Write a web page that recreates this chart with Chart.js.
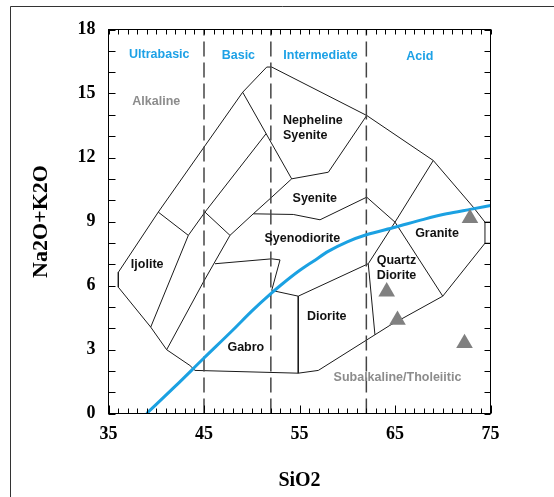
<!DOCTYPE html>
<html><head><meta charset="utf-8">
<script src="https://cdn.jsdelivr.net/npm/chart.js@4.4.0/dist/chart.umd.min.js"></script>
<style>html,body{margin:0;padding:0;background:#fff;}#wrap{width:554px;height:497px;}</style>
</head><body><div id="wrap"><canvas id="c" width="554" height="497"></canvas></div>
<script>
// ---- axis ticks
const xTicks = [35, 45, 55, 65, 75];
const yTicks = [0, 3, 6, 9, 12, 15, 18];
const silicaDividers = [45, 52, 62];

// ---- field boundaries (SiO2, Na2O+K2O)
const outerBoundary = [[49.05,15.06],[40.21,9.44],[36.03,6.62],[36.03,5.92],[39.42,4.05],[41.09,2.99],[43.53,2.25],[44.06,2.02],[54.87,1.89],[56.97,2.02],[62.9,3.69],[64.46,4.13],[70.0,5.5],[74.42,7.98],[74.42,8.97],[73.2,9.67],[69.01,11.86],[62.04,13.97],[52.09,16.24],[51.57,16.24],[49.05,15.06]];
const edgeStubLow = [[74.42,7.98],[75,7.98]];
const edgeStubHigh = [[74.42,8.97],[75,8.97]];
const ijoliteEdge = [[40.21,9.44],[43.36,8.35],[39.42,4.05]];
const foidEdge = [[43.36,8.35],[45.1,9.44],[51.49,13.11]];
const nephelineUpper = [[49.05,15.06],[54.18,11.0]];
const gabbroEdge = [[45.1,9.44],[47.72,8.35],[44.93,6.16],[41.09,2.99]];
const monzoEdge = [[47.72,8.35],[50.16,9.36],[52.09,10.14],[54.18,11.0]];
const syenoTop = [[50.16,9.36],[54.35,9.33],[57.15,9.08],[62.04,10.14],[65.0,8.97]];
const nephelineLower = [[54.18,11.0],[58.02,11.31],[62.04,13.97]];
const graniteEdge = [[69.01,11.86],[65.0,8.97],[70.0,5.5]];
const dioriteTop = [[52.09,5.77],[54.87,5.5],[62.2,7.02],[65.0,8.97]];
const dioriteLeft = [[54.87,5.5],[54.87,1.89]];
const quartzLeft = [[62.2,7.02],[62.9,3.69]];
const innerPocket = [[46.15,7.02],[52.09,7.25],[52.96,7.2],[52.09,5.77]];

// ---- alkaline / subalkaline divide
const divideSiO2   = [39, 42, 45, 48, 50, 52, 53, 55, 56.5, 58, 60, 62, 65, 68, 70.4, 73, 75];
const divideAlkali = [0, 1.28, 2.6, 3.9, 4.8, 5.62, 6.0, 6.7, 7.15, 7.6, 8.05, 8.38, 8.73, 9.1, 9.36, 9.58, 9.75];

// ---- samples
const sampleSiO2   = [72.85, 64.13, 65.26, 72.28];
const sampleAlkali = [9.15, 5.71, 4.38, 3.29];

// ---- text labels
const fieldNames = ['Ultrabasic', 'Basic', 'Intermediate', 'Acid'];
const fieldX = [40.32, 48.6, 57.2, 67.6];
const fieldY = [16.82, 16.78, 16.76, 16.72];
const seriesNames = ['Alkaline', 'Subalkaline/Tholeiitic'];
const seriesX = [40.0, 65.26];
const seriesY = [14.6, 1.7];
const rockNames = ['Nepheline', 'Syenite', 'Syenite', 'Syenodiorite', 'Ijolite', 'Gabro', 'Diorite', 'Quartz', 'Diorite', 'Granite'];
const rockX = [53.27, 53.27, 56.6, 55.3, 39.05, 49.38, 57.85, 63.08, 63.08, 69.4];
const rockY = [13.74, 13.02, 10.08, 8.22, 6.97, 3.08, 4.55, 7.17, 6.47, 8.42];
const rockLeftAligned = [true, true, false, false, false, false, false, true, true, false];

const toPts = arr => arr.map(p => ({x: p[0], y: p[1]}));
const lineSet = arr => ({data: toPts(arr), showLine: true, borderColor: '#1a1a1a', borderWidth: 1, pointRadius: 0, fill: false, tension: 0});

const boundarySets = [outerBoundary, edgeStubLow, edgeStubHigh, ijoliteEdge, foidEdge, nephelineUpper, gabbroEdge, monzoEdge, syenoTop, nephelineLower, graniteEdge, dioriteTop, dioriteLeft, quartzLeft, innerPocket].map(lineSet);
const dividerSets = silicaDividers.map(v => ({data: [{x: v, y: 0}, {x: v, y: 18}], showLine: true, borderColor: '#444', borderWidth: 1.5, borderDash: [15, 6], pointRadius: 0}));

const decor = {
  id: 'decor',
  beforeDraw(chart) {
    const c = chart.ctx;
    c.save();
    c.strokeStyle = '#333'; c.lineWidth = 1;
    c.beginPath(); c.moveTo(10.5, 497); c.lineTo(10.5, 6.5); c.lineTo(554, 6.5); c.stroke();
    c.restore();
  },
  afterDatasetsDraw(chart) {
    const c = chart.ctx, a = chart.chartArea, sx = chart.scales.x, sy = chart.scales.y;
    c.save();
    c.strokeStyle = '#000'; c.lineWidth = 1;
    c.strokeRect(a.left, a.top, a.right - a.left, a.bottom - a.top);
    c.beginPath();
    for (let v = 35; v <= 75; v++) {
      const px = Math.round(sx.getPixelForValue(v)) + 0.5;
      const major = xTicks.includes(v);
      c.moveTo(px, a.bottom); c.lineTo(px, a.bottom - (major ? 8 : 5));
      c.moveTo(px, a.top); c.lineTo(px, a.top + 5);
    }
    for (let v = 0; v <= 18; v++) {
      const py = Math.round(sy.getPixelForValue(v)) + 0.5;
      c.moveTo(a.left, py); c.lineTo(a.left + 7, py);
      c.moveTo(a.right, py); c.lineTo(a.right - 6, py);
    }
    c.stroke();
    // labels
    c.textBaseline = 'middle';
    c.font = 'bold 12.5px "Liberation Sans", Arial, sans-serif';
    c.fillStyle = '#1da1e6'; c.textAlign = 'center';
    fieldNames.forEach((t, i) => c.fillText(t, sx.getPixelForValue(fieldX[i]), sy.getPixelForValue(fieldY[i])));
    c.fillStyle = '#8c8c8c';
    seriesNames.forEach((t, i) => c.fillText(t, sx.getPixelForValue(seriesX[i]), sy.getPixelForValue(seriesY[i])));
    c.fillStyle = '#111';
    rockNames.forEach((t, i) => {
      c.textAlign = rockLeftAligned[i] ? 'left' : 'center';
      c.fillText(t, sx.getPixelForValue(rockX[i]), sy.getPixelForValue(rockY[i]));
    });
    c.restore();
  }
};

new Chart(document.getElementById('c'), {
  type: 'scatter',
  data: {
    datasets: [
      {data: sampleSiO2.map((x, i) => ({x, y: sampleAlkali[i]})), pointStyle: 'triangle', pointRadius: 9.6, backgroundColor: '#808080', borderWidth: 0, showLine: false},
      {data: divideSiO2.map((x, i) => ({x, y: divideAlkali[i]})), showLine: true, borderColor: '#1ba1e2', borderWidth: 3, pointRadius: 0, cubicInterpolationMode: 'monotone'},
      ...dividerSets,
      ...boundarySets
    ]
  },
  options: {
    responsive: false, animation: false, devicePixelRatio: 1, events: [],
    layout: {padding: {left: 0, top: 29.5, right: 63.5, bottom: 0}},
    plugins: {legend: {display: false}, tooltip: {enabled: false}},
    scales: {
      x: {
        type: 'linear', min: 35, max: 75,
        afterBuildTicks: s => { s.ticks = xTicks.map(v => ({value: v})); },
        afterFit: s => { s.height = 83.5; },
        grid: {display: false, drawTicks: false}, border: {display: false},
        ticks: {padding: 10, color: '#000', font: {family: '"Liberation Serif", "Times New Roman", serif', weight: 'bold', size: 18}},
        title: {display: true, text: 'SiO2', color: '#000', padding: {top: 0, bottom: 4}, font: {family: '"Liberation Serif", "Times New Roman", serif', weight: 'bold', size: 20}}
      },
      y: {
        type: 'linear', min: 0, max: 18,
        afterBuildTicks: s => { s.ticks = yTicks.map(v => ({value: v})); },
        afterFit: s => { s.width = 108.5; },
        grid: {display: false, drawTicks: false}, border: {display: false},
        ticks: {padding: 13, color: '#000', font: {family: '"Liberation Serif", "Times New Roman", serif', weight: 'bold', size: 18}},
        title: {display: true, text: 'Na2O+K2O', color: '#000', padding: {top: 28, bottom: 0}, font: {family: '"Liberation Serif", "Times New Roman", serif', weight: 'bold', size: 22}}
      }
    }
  },
  plugins: [decor]
});
</script></body></html>
